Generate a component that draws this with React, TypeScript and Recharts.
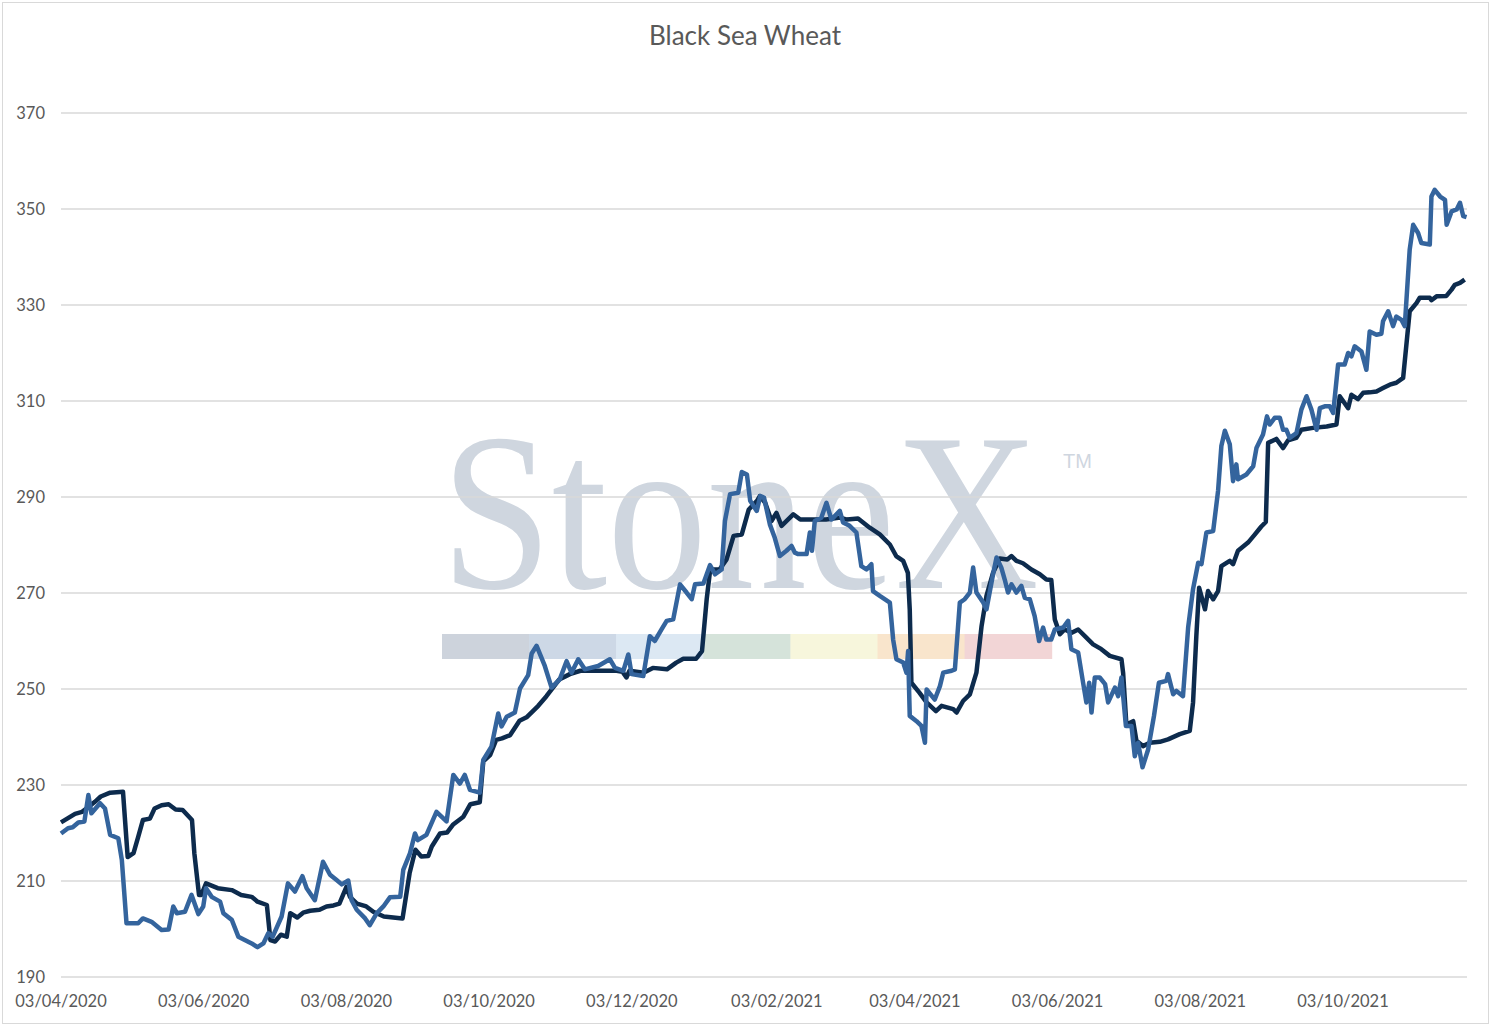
import { LineChart, Line, XAxis, YAxis, CartesianGrid } from 'recharts'

// day offsets from 03/04/2020, price
const blackSeaNavy: [number, number][] = [
  [0, 222.2], [3, 223.1], [6, 224], [9, 224.4], [12, 225.5], [14.5, 226.5], [17, 227.6], [21, 228.4],
  [26.5, 228.6], [28.5, 215], [31, 215.8], [33, 219.2], [35, 222.7], [38, 223], [40, 225.1], [43, 225.8],
  [46, 226], [49, 224.9], [52, 224.8], [56, 222.7], [57, 215.8], [59, 207.1], [60, 207.1], [62, 209.5],
  [67, 208.5], [73, 208.1], [77, 207.1], [81.5, 206.7], [84, 205.7], [88, 205], [89.5, 197.7], [91.5, 197.4],
  [94, 198.8], [96.5, 198.4], [98, 203.3], [101, 202.4], [103.5, 203.4], [106.5, 203.8], [110.5, 204],
  [113.5, 204.7], [116.5, 204.9], [119, 205.3], [122, 208.8], [123.5, 206.7], [126.5, 205.3], [130.5, 204.7],
  [133.5, 203.6], [138, 202.6], [146, 202.2], [149, 211.6], [151.5, 216.5], [154, 215.1], [157, 215.2],
  [158.5, 217.2], [162, 219.9], [165, 220.1], [167.5, 221.7], [172, 223.4], [175, 226], [179, 226.4],
  [180.5, 234.9], [183.5, 236.3], [186, 239.4], [188.5, 239.7], [192, 240.4], [196, 243.4], [199, 244.1],
  [204, 246.5], [207.5, 248.5], [213, 252], [217.5, 253.1], [222, 253.8], [229, 253.8], [237.5, 253.8],
  [240, 253.6], [241.7, 252.4], [243, 253.8], [249, 253.4], [253, 254.4], [259, 254.1], [263, 255.5],
  [266, 256.3], [271.5, 256.3], [274, 257.9], [276, 268.7], [277.5, 274.9], [281.5, 274.9], [284.5, 277],
  [287.5, 281.9], [291, 282.2], [294, 287.4], [297.5, 289.2], [298.7, 290.2], [301, 288.8], [303.7, 285],
  [305.8, 286.7], [308, 284], [313, 286.4], [316, 285.3], [321.5, 285.3], [327, 285.3], [333, 285.7],
  [336, 285.3], [340.7, 285.5], [345.7, 283.6], [350, 282.2], [354.3, 280.1], [357, 277.7], [360, 276.7],
  [362, 274.2], [362.8, 266.6], [363.5, 251.3], [367, 249.2], [370, 247.2], [374, 245.4], [376.4, 246.5],
  [381.4, 245.8], [382.8, 245.1], [385.6, 247.5], [388.5, 248.9], [391.3, 253.4], [393.5, 263.1],
  [395.6, 269.4], [398.4, 274.2], [401.3, 277.2], [404.5, 277], [406.3, 277.7], [408.4, 276.7],
  [411.2, 276.2], [414.8, 274.9], [418.4, 273.9], [421.2, 272.8], [423.3, 272.7], [424.8, 264.5],
  [427, 261.4], [429, 262.4], [432, 261.7], [434.8, 262.4], [438.3, 260.7], [441.2, 259.3], [444.7, 258.3],
  [448.3, 256.9], [453.3, 256.2], [454, 253.4], [455.4, 242.6], [458.3, 243.3], [459.7, 239.2],
  [462.5, 238.1], [465.4, 238.8], [469.7, 239], [473.2, 239.5], [478.2, 240.6], [482.5, 241.3],
  [483.9, 247.2], [485.3, 261], [486.5, 271.1], [489, 266.6], [490.3, 270.4], [492.5, 268.7],
  [494.6, 270.4], [496, 275.6], [499.6, 276.7], [501, 276], [503.1, 278.8], [507.4, 280.5], [510, 282],
  [513, 283.8], [515, 284.8], [516, 301.3], [519.5, 302.1], [522.4, 300.2], [524.5, 301.8], [528, 302.3],
  [530.2, 304], [535.2, 304.4], [541, 304.7], [545.2, 305.1], [546.6, 311], [550.2, 308.5], [551.6, 311.3],
  [554.4, 310.4], [556.6, 311.7], [559.4, 311.8], [562.3, 312], [565.1, 312.7], [568, 313.4],
  [570.8, 313.8], [573.7, 314.8], [576.5, 328.7], [579.4, 330.4], [580.8, 331.5], [585.1, 331.5],
  [585.8, 331], [588, 331.8], [592.2, 331.9], [594.4, 333.2], [595.8, 334.2], [598, 334.6], [600, 335.3],
]

const blackSeaBlue: [number, number][] = [
  [0, 219.9], [3, 221], [5, 221.2], [7.4, 222.2], [10, 222.4], [11.7, 227.9], [13, 224.1], [16.7, 226.2],
  [18.8, 225.1], [21, 219.6], [24.5, 218.9], [26, 214.4], [28, 201.2], [33, 201.2], [35, 202.2],
  [38.7, 201.5], [43, 199.8], [46, 199.9], [48, 204.7], [49.5, 203.3], [53, 203.6], [55.8, 207.1],
  [58.7, 203.1], [60.8, 204.7], [62, 208.5], [64.4, 206.7], [68, 205.7], [69.4, 203.3], [73, 201.9],
  [75.8, 198.4], [81.5, 197], [84, 196.2], [86.5, 197], [88.6, 199.1], [90.5, 198.4], [94.3, 202.6],
  [97, 209.5], [100, 207.8], [103.2, 211], [105, 208.5], [108.5, 206], [112, 214], [115, 211.3],
  [117.8, 210.2], [120, 209.3], [122.8, 210.1], [124.2, 206], [126.4, 204], [130, 202.2], [132, 200.8],
  [135, 203.3], [137.8, 204.7], [140.6, 206.6], [145, 206.7], [146.3, 212.3], [149.2, 215.8],
  [151.3, 219.9], [152.5, 218.5], [156.2, 219.6], [160.5, 224.4], [164.8, 222.4], [167.7, 232.1],
  [170.5, 230.3], [172.6, 232.1], [174.8, 229], [179, 228.4], [180.5, 235.2], [184, 238], [186.9, 244.9],
  [188.3, 242.2], [190.5, 244.2], [194, 245.1], [196.2, 250.1], [199.7, 252.9], [201.2, 257.4],
  [203.3, 259], [206.8, 254.8], [209.7, 250.3], [213.2, 252], [216.1, 255.8], [218.2, 253.4],
  [221.1, 256.2], [223.9, 254.1], [229.6, 254.8], [234.6, 256.2], [236.8, 254.4], [240.4, 253.8],
  [242.5, 257.2], [243.9, 253.1], [248.9, 252.7], [251.7, 261], [253.8, 260], [256.7, 262.4],
  [258.9, 264.2], [261.7, 264.5], [264.6, 271.8], [267.4, 270.1], [269.6, 268.7], [271, 271.8],
  [274.6, 272], [277.4, 275.8], [279.6, 273.9], [282.4, 274.9], [283.8, 285], [286, 290.6],
  [289.5, 290.9], [291, 295.2], [293.2, 294.7], [294.6, 289.2], [297.4, 287.1], [298.9, 290.2],
  [300.5, 289.9], [303, 284.3], [305.1, 281.5], [307.3, 277.7], [310.1, 278.8], [312.3, 279.8],
  [313.7, 278.4], [315.1, 278.1], [318.7, 278.1], [320.1, 282.6], [321, 278.8], [322.2, 285],
  [325, 285.7], [327.2, 288.8], [329.3, 285.3], [332.9, 287.1], [334.3, 284.7], [337.1, 284],
  [340, 282.6], [342.1, 275.6], [344.3, 274.9], [346.4, 276], [347.1, 270.4], [350, 269.4],
  [354.3, 268], [355.7, 260.3], [357.1, 256.2], [360, 255.5], [361.4, 253.4], [362.1, 257.9],
  [362.8, 244.4], [365.7, 243.3], [367.8, 242.3], [369.3, 238.8], [370, 249.9], [373.5, 247.8],
  [375.7, 250.6], [377.1, 253.4], [380.7, 253.8], [382.1, 254.1], [384.2, 268], [386.3, 268.7],
  [388.5, 270.1], [389.9, 275.3], [391.3, 270.1], [394.2, 268], [395.6, 266.6], [398.4, 273.9],
  [399.9, 277.4], [402, 275.2], [403.4, 272.8], [404.8, 270.1], [406.3, 271.8], [408.4, 270.1],
  [410.5, 271.5], [412, 269], [414.1, 268.7], [416.2, 265.2], [418.1, 260], [419.8, 262.8],
  [421.2, 260.3], [423.3, 260.3], [424.8, 262.4], [428.4, 262.8], [430.5, 264.2], [431.9, 258.3],
  [434.8, 257.6], [436.9, 251.3], [438.3, 247.2], [439.5, 251.3], [440.5, 245.1], [441.9, 252.4],
  [444, 252.4], [446.3, 251], [447.6, 247.2], [450.5, 250.3], [451.9, 248.5], [453.3, 252.4],
  [455.2, 242.3], [457.6, 242.3], [459, 236], [460.4, 238.8], [462.3, 233.7], [464.7, 237.4],
  [467.2, 244.4], [469.3, 251.3], [472.5, 251.7], [473.2, 253.1], [475.4, 248.9], [476.8, 249.6],
  [479.6, 248.5], [481.8, 262.8], [483.9, 270.8], [486.1, 276.3], [487.5, 276], [489.6, 282.6],
  [492.5, 282.9], [494.6, 291.3], [496, 300.6], [497.5, 303.8], [499.6, 301], [501, 293.3],
  [502.4, 296.8], [503.1, 293.7], [506.7, 294.7], [509.6, 296.4], [511, 300.2], [513.8, 303],
  [515.5, 306.8], [516.7, 305.1], [518.8, 306.5], [521, 306.5], [522.4, 304], [523.8, 304],
  [525.2, 302.3], [528.1, 303.3], [530.2, 308.2], [532.4, 311], [534.5, 308.2], [536.7, 304],
  [538.1, 308.5], [540.2, 308.9], [542.3, 308.9], [543.8, 307.5], [545.9, 317.6], [548.7, 317.6],
  [550.2, 320], [551.6, 319.3], [553, 321.4], [555.9, 320.3], [558, 316.5], [559.4, 324.5],
  [562.3, 323.8], [564.4, 324], [565.1, 326.6], [567.3, 328.7], [569.4, 325.6], [570.8, 327.6],
  [573, 326.9], [574.4, 325.6], [576.5, 341.5], [578, 346.7], [580.1, 345], [581.5, 342.9],
  [585.1, 342.6], [585.8, 352.6], [587.2, 354], [589.5, 352.6], [591.6, 351.9], [592.3, 346.7],
  [594.4, 349.5], [596.6, 349.9], [598, 351.3], [599.4, 348.5], [600.8, 348.3],
]

const tickLabels = [
  '03/04/2020', '03/06/2020', '03/08/2020', '03/10/2020', '03/12/2020',
  '03/02/2021', '03/04/2021', '03/06/2021', '03/08/2021', '03/10/2021',
]
const priceTicks = [190, 210, 230, 250, 270, 290, 310, 330, 350, 370]

const bandColors = ['#cdd3dc', '#cdd8e6', '#dce8f3', '#d5e3da', '#f7f6dc', '#f9e5cc', '#f2d5d6']

const START = Date.UTC(2020, 3, 3)
const toDay = (label: string) => {
  const [d, m, y] = label.split('/').map(Number)
  return Math.round((Date.UTC(y, m - 1, d) - START) / 86400000)
}
const tickDays = tickLabels.map(toDay)

const toRows = (s: [number, number][]) => s.map(([day, price]) => ({ day, price }))

const FONT = 'Lato, "Open Sans", sans-serif'
const TEXT = '#595959'

// logo watermark sits behind the plot, like the picture pasted under the chart
function Backdrop() {
  return (
    <svg width={1491} height={1027} style={{ position: 'absolute', left: 0, top: 0 }}>
      <rect x={2.5} y={2.5} width={1486} height={1021} fill="#fff" stroke="#d9d9d9" />
      <text x={745} y={45} textAnchor="middle" fontFamily={FONT} fontSize={26} fill={TEXT}>
        Black Sea Wheat
      </text>
      <text
        transform="translate(441 588) scale(0.89 1)"
        fontFamily='"Liberation Serif", "DejaVu Serif", serif'
        fontSize={224}
        fill="#cfd6df"
      >
        StoneX
      </text>
      <text x={1063} y={468} fontFamily='"Liberation Sans", sans-serif' fontSize={20} fill="#cfd6df">
        TM
      </text>
      {bandColors.map((c, i) => (
        <rect key={c} x={442 + i * 87.1} y={634} width={87.6} height={25} fill={c} />
      ))}
    </svg>
  )
}

export default function App() {
  return (
    <div style={{ position: 'absolute', left: 0, top: 0, width: 1491, height: 1027 }}>
      <Backdrop />
      <div style={{ position: 'absolute', left: 0, top: 0 }}>
        <LineChart width={1491} height={1027} margin={{ top: 113, right: 24, bottom: 20, left: 0 }}>
          <CartesianGrid vertical={false} stroke="#d9d9d9" strokeWidth={1.3} />
          <XAxis
            type="number"
            dataKey="day"
            domain={[0, 601]}
            ticks={tickDays}
            interval={0}
            tickFormatter={(v) => tickLabels[tickDays.indexOf(v)] ?? ''}
            axisLine={false}
            tickLine={false}
            tickSize={0}
            tickMargin={18}
            height={30}
            tick={{ fill: TEXT, fontSize: 16.5, fontFamily: FONT }}
          />
          <YAxis
            type="number"
            domain={[190, 370]}
            ticks={priceTicks}
            interval={0}
            axisLine={false}
            tickLine={false}
            tickSize={0}
            tickMargin={16}
            width={61}
            tick={{ fill: TEXT, fontSize: 16.5, fontFamily: FONT }}
          />
          <Line
            data={toRows(blackSeaNavy)}
            dataKey="price"
            type="linear"
            stroke="#0d2b4d"
            strokeWidth={4.5}
            strokeLinejoin="round"
            dot={false}
            isAnimationActive={false}
          />
          <Line
            data={toRows(blackSeaBlue)}
            dataKey="price"
            type="linear"
            stroke="#34649d"
            strokeWidth={4.5}
            strokeLinejoin="round"
            dot={false}
            isAnimationActive={false}
          />
        </LineChart>
      </div>
    </div>
  )
}
